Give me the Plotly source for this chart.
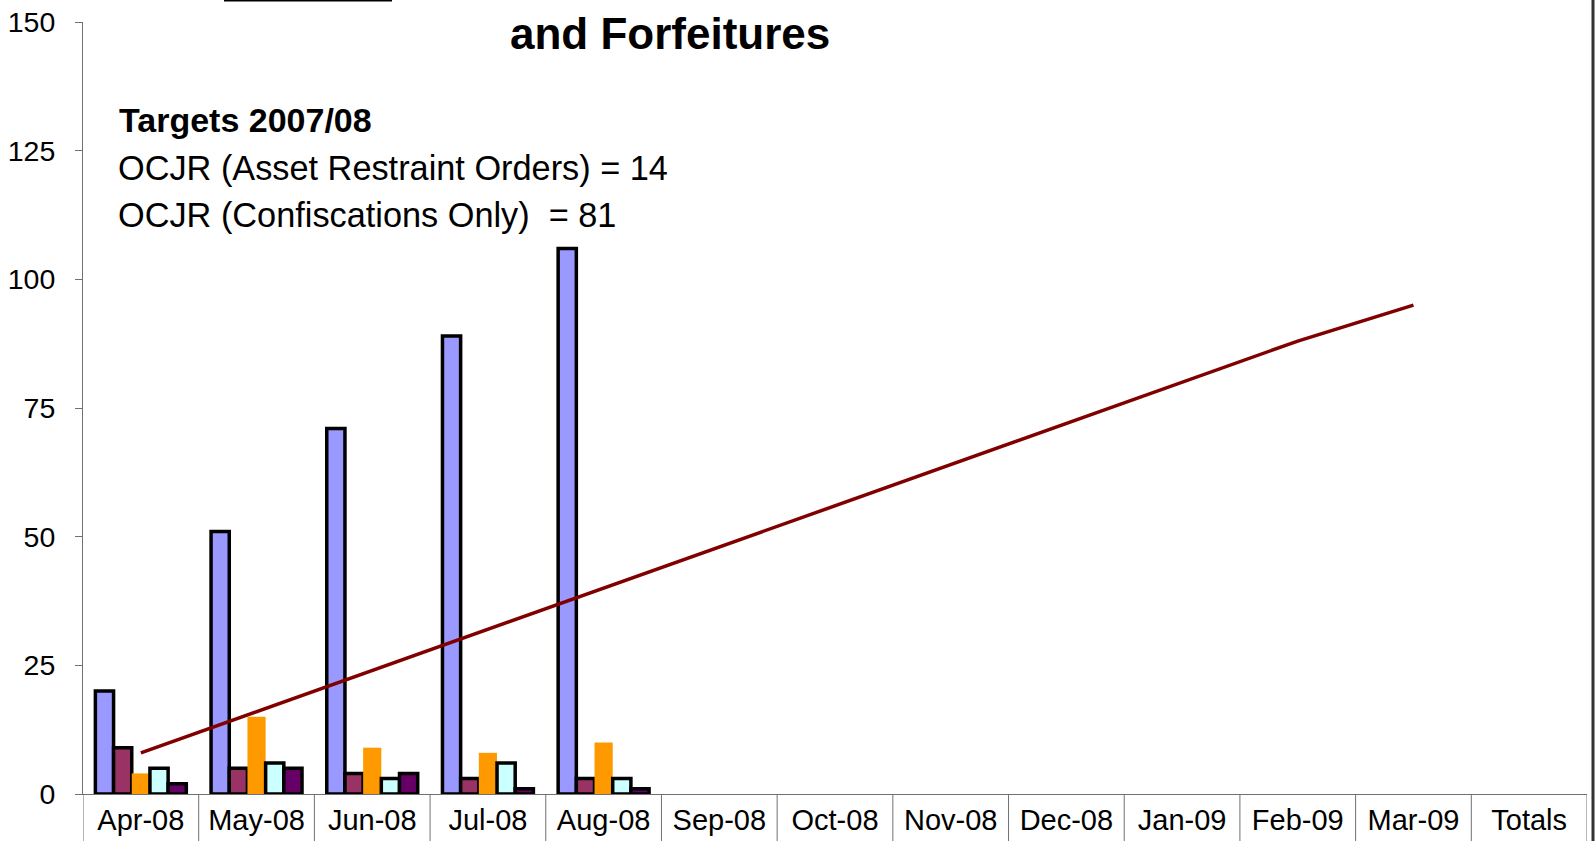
import plotly.graph_objects as go

# Monthly categories on the x axis (data-table style)
months = ["Apr-08", "May-08", "Jun-08", "Jul-08", "Aug-08", "Sep-08", "Oct-08",
          "Nov-08", "Dec-08", "Jan-09", "Feb-09", "Mar-09", "Totals"]

# Cumulative counts per series (only Apr–Aug reported so far)
series_a = [20, 51, 71, 89, 106, None, None, None, None, None, None, None, None]
series_b = [9, 5, 4, 3, 3, None, None, None, None, None, None, None, None]
series_c = [4, 15, 9, 8, 10, None, None, None, None, None, None, None, None]
series_d = [5, 6, 3, 6, 3, None, None, None, None, None, None, None, None]
series_e = [2, 5, 4, 1, 1, None, None, None, None, None, None, None, None]

# Cumulative target line (14 + 81 = 95 for the year)
target = [8, 16, 24, 32, 40, 48, 56, 64, 72, 80, 88, 95, None]

y_ticks = [0, 25, 50, 75, 100, 125, 150]

FONT = "Liberation Sans, Arial, sans-serif"
W, H = 1595, 841
L, R, T, B = 83, 8, 22, 47
PW, PH = W - L - R, H - T - B


def px_x(px):
    return (px - L) / PW


def px_y(py):
    return (H - B - py) / PH


fig = go.Figure()

bar_styles = [
    (series_a, "#9999FF", "#000000", 3.5),
    (series_b, "#993366", "#000000", 3.5),
    (series_c, "#FF9900", "#FF9900", 0),
    (series_d, "#CCFFFF", "#000000", 3.5),
    (series_e, "#660066", "#000000", 3.5),
]
for vals, fill, edge, lw in bar_styles:
    fig.add_trace(go.Bar(
        x=months, y=vals,
        marker=dict(color=fill, line=dict(color=edge, width=lw)),
        showlegend=False, hoverinfo="skip",
    ))

fig.add_trace(go.Scatter(
    x=months, y=target, mode="lines",
    line=dict(color="#800000", width=3.5),
    showlegend=False, hoverinfo="skip",
))

# Data-table grid under the axis: vertical separators at category boundaries
shapes = []
for i in range(len(months) + 1):
    shapes.append(dict(
        type="line", xref="x", yref="paper",
        x0=i - 0.5, x1=i - 0.5, y0=0, y1=px_y(H + 5),
        line=dict(color="#707070", width=1),
    ))
# outer frame on the right
shapes.append(dict(
    type="line", xref="paper", yref="paper",
    x0=px_x(1593), x1=px_x(1593), y0=px_y(H + 5), y1=px_y(-5),
    line=dict(color="#333333", width=3),
))
# underline of the title's first line
shapes.append(dict(
    type="line", xref="paper", yref="paper",
    x0=px_x(224), x1=px_x(392), y0=px_y(0.8), y1=px_y(0.8),
    line=dict(color="#000000", width=1.6),
))

annotations = [
    dict(text="<b>and Forfeitures</b>", x=px_x(670), y=px_y(33.5),
         xanchor="center", yanchor="middle",
         font=dict(family=FONT, size=44, color="#000000")),
    dict(text="<b>Targets 2007/08</b>", x=px_x(117), y=px_y(120),
         xanchor="left", yanchor="middle",
         font=dict(family=FONT, size=34, color="#000000")),
    dict(text="OCJR (Asset Restraint Orders) = 14", x=px_x(116), y=px_y(168),
         xanchor="left", yanchor="middle",
         font=dict(family=FONT, size=34.3, color="#000000")),
    dict(text="OCJR (Confiscations Only)  = 81", x=px_x(116), y=px_y(215),
         xanchor="left", yanchor="middle",
         font=dict(family=FONT, size=34.3, color="#000000")),
]
for a in annotations:
    a.update(xref="paper", yref="paper", showarrow=False)

fig.update_layout(
    width=W, height=H,
    margin=dict(l=L, r=R, t=T, b=B, pad=0, autoexpand=False),
    paper_bgcolor="white", plot_bgcolor="white",
    barmode="group", bargap=0.214, bargroupgap=0,
    font=dict(family=FONT, color="#000000"),
    shapes=shapes, annotations=annotations,
    showlegend=False,
)

fig.update_xaxes(
    type="category", categoryorder="array", categoryarray=months,
    range=[-0.5, len(months) - 0.5], automargin=False,
    showline=True, linecolor="#707070", linewidth=1,
    showgrid=False, zeroline=False, ticks="",
    tickfont=dict(family=FONT, size=29, color="#000000"),
    ticklabelstandoff=0,
)
fig.update_yaxes(
    range=[0, 150], tickvals=y_ticks, ticktext=[str(v) for v in y_ticks],
    automargin=False,
    showline=True, linecolor="#707070", linewidth=1,
    ticks="outside", ticklen=7, tickcolor="#707070",
    showgrid=False, zeroline=False,
    tickfont=dict(family=FONT, size=28.5, color="#000000"),
    ticklabelstandoff=14,
)

fig.write_html("out.html")
